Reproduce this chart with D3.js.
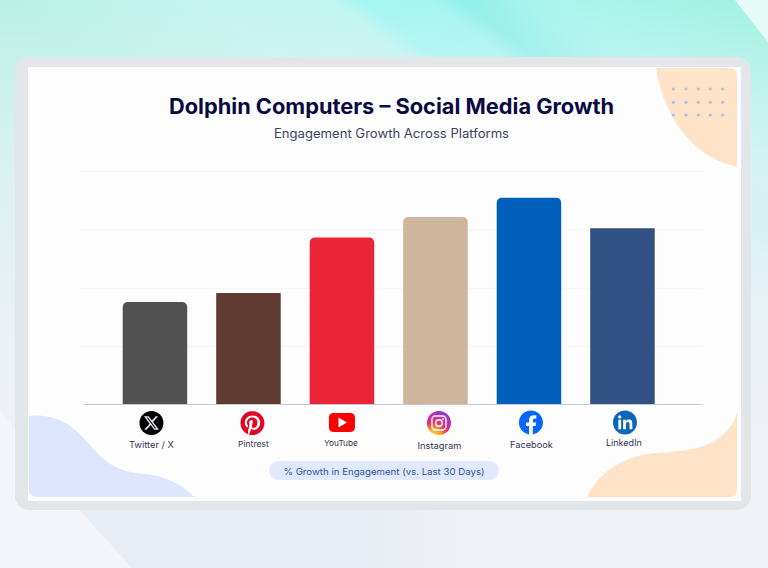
<!DOCTYPE html>
<html>
<head>
<meta charset="utf-8">
<title>Dolphin Computers - Social Media Growth</title>
<script src="https://cdn.jsdelivr.net/npm/d3@7"></script>
<style>
html,body{margin:0;padding:0;background:#eef2f8;overflow:hidden;}
svg{display:block;}
text{font-family:Inter,"Open Sans",sans-serif;}
</style>
</head>
<body>
<div id="chart"></div>
<script>
//values (no printed axis, gridlines taken as steps of 10)
var platforms = ["Twitter / X","Pintrest","YouTube","Instagram","Facebook","LinkedIn"];
var growth = [17.55,19.1,28.6,32.1,35.4,30.2];
var gridTicks = [0,10,20,30,40];
var barColors = ["#515151","#603b32","#ea2537","#cfb49c","#0060bb","#315083"];
var roundedTop = [true,false,true,true,true,false];

var titleText = "Dolphin Computers \u2013 Social Media Growth";
var subtitleText = "Engagement Growth Across Platforms";
var pillText = "% Growth in Engagement (vs. Last 30 Days)";

//icons and their captions sit a little off the band centres in the original
var iconDx = [-3.5,4,0,3.5,2,2.5];
var iconDy = [0.5,0.5,0,0.5,0,0];
var captions = [
	{dx:-3.5,base:448,size:9,len:45},
	{dx:5,base:447,size:8,len:31},
	{dx:-1,base:446,size:8,len:34},
	{dx:4,base:448.5,size:8.5,len:44},
	{dx:2.5,base:447.5,size:9,len:43},
	{dx:1.5,base:446,size:8.5,len:36}
];

var width = 768, height = 568;
var svg = d3.select("#chart").append("svg").attr("width",width).attr("height",height);
var defs = svg.append("defs");

function stops(g,list){
	list.forEach(function(s){
		var st = g.append("stop").attr("offset",s[0]).attr("stop-color",s[1]);
		if(s.length>2){st.attr("stop-opacity",s[2])}
	});
	return g;
}
//diagonal teal streaks along the top, running down to the right
stops(defs.append("linearGradient").attr("id","streaks").attr("gradientUnits","userSpaceOnUse")
	.attr("x1",0).attr("y1",0).attr("x2",285).attr("y2",-371),[
	[0,"#b8f1e6"],[0.26,"#c4f4ee"],[0.43,"#c0f5f0"],[0.47,"#a5f6f4"],[0.56,"#a5f5f3"],
	[0.6,"#8ff0ea"],[0.68,"#a5f3ee"],[0.73,"#a9f5ed"],[0.92,"#a2f2e3"],[1,"#a2f2e3"]]);
//fades the streaks out into the pale lower half
stops(defs.append("linearGradient").attr("id","fade").attr("x1",0).attr("y1",0).attr("x2",0).attr("y2",1),[
	[0,"#eef1f6",0],[0.1,"#eef1f6",0.25],[0.3,"#eef1f6",0.65],[0.6,"#eef1f6",0.95],[0.8,"#eef1f6",1],[1,"#eef1f6",1]]);
stops(defs.append("linearGradient").attr("id","floor").attr("gradientUnits","userSpaceOnUse")
	.attr("x1",75).attr("y1",0).attr("x2",470).attr("y2",0),[
	[0,"#e8ecf5"],[0.7,"#e8ecf4"],[1,"#eef1f6"]]);
stops(defs.append("radialGradient").attr("id","insta").attr("cx",0.3).attr("cy",1).attr("r",1.05),[
	[0,"#fdd33f"],[0.25,"#f9a32b"],[0.5,"#ec2f62"],[0.75,"#c82bb0"],[1,"#7c3bd8"]]);

//page background
svg.append("rect").attr("width",width).attr("height",height).attr("fill","url(#streaks)");
svg.append("rect").attr("width",width).attr("height",height).attr("fill","url(#fade)");
svg.append("path").attr("d","M735 0L768 0L768 42Z").attr("fill","#ffffff").attr("opacity",0.7);
svg.append("path").attr("d","M0 410L132 568L0 568Z").attr("fill","#f3f5fa");
svg.append("path").attr("d","M75 505L132 568L520 568L470 505Z").attr("fill","url(#floor)");

//frame and card
svg.append("rect").attr("x",15).attr("y",57).attr("width",736).attr("height",453).attr("rx",14).attr("fill","#e3e6e9");
svg.append("rect").attr("x",28).attr("y",67).attr("width",713).attr("height",434).attr("fill","#fdfdfe");

//corner blobs
svg.append("path").attr("fill","#fee3c9")
	.attr("d","M656 68L729 68Q737 68 737 76L737 167C700 160 665 125 656 68Z");
svg.append("path").attr("fill","#fee3c9")
	.attr("d","M587 497C600 470 625 456 655 453C685 451 725 450 737 413L737 489Q737 497 729 497Z");
svg.append("path").attr("fill","#dde6fd")
	.attr("d","M29 416C60 413 75 428 90 445C105 463 118 472 145 474C165 476 182 484 194 497L37 497Q29 497 29 489Z");

var dotXs = [673.3,686,698.3,710.3,722.7], dotYs = [89,102.3,115];
dotYs.forEach(function(y){
	svg.append("g").selectAll("circle").data(dotXs).enter().append("circle")
		.attr("cx",function(d){return d}).attr("cy",y).attr("r",1.6).attr("fill","#a9c3e6");
});

//titles
function fitted(sel,len){
	return sel.attr("textLength",len).attr("lengthAdjust","spacingAndGlyphs");
}
fitted(svg.append("text").attr("x",391.5).attr("y",114).attr("text-anchor","middle")
	.attr("font-size",21).attr("font-weight",700).attr("fill","#0a0a42").text(titleText),445);
fitted(svg.append("text").attr("x",391.5).attr("y",138).attr("text-anchor","middle")
	.attr("font-size",12.5).attr("fill","#3b4560").text(subtitleText),235);

//scales
var x = d3.scaleBand().domain(platforms).range([108.2,669.2]).paddingInner(0.31).paddingOuter(0.155);
var y = d3.scaleLinear().domain([0,40]).range([404.5,171]);

//gridlines
var grid = svg.append("g").attr("transform","translate(703,0)")
	.call(d3.axisLeft(y).tickValues(gridTicks).tickSize(623).tickFormat(""));
grid.select(".domain").remove();
grid.selectAll("line").attr("stroke","#f4f4f6").attr("stroke-width",1);
grid.selectAll(".tick").filter(function(d){return d===0}).remove();

//bars, some with rounded tops like the original
function barPath(d,i){
	var x0 = x(platforms[i]), x1 = x0+x.bandwidth(), y0 = y(0), y1 = y(d);
	var r = roundedTop[i] ? 5 : 0;
	var p = d3.path();
	p.moveTo(x0,y0);
	p.lineTo(x0,y1+r);
	if(r){p.arcTo(x0,y1,x0+r,y1,r);}
	p.lineTo(x1-r,y1);
	if(r){p.arcTo(x1,y1,x1,y1+r,r);}
	p.lineTo(x1,y0);
	p.closePath();
	return p.toString();
}
svg.append("g").selectAll("path").data(growth).enter().append("path")
	.attr("d",barPath)
	.attr("fill",function(d,i){return barColors[i]});

//baseline
svg.append("line").attr("x1",84).attr("x2",703).attr("y1",y(0)).attr("y2",y(0))
	.attr("stroke","#c5c9d3").attr("stroke-width",1);

//platform icons, drawn on a 24 unit box round the centre
var P_PATH = "M12.017 0C5.396 0 .029 5.367.029 11.987c0 5.079 3.158 9.417 7.618 11.162-.105-.949-.199-2.403.041-3.439.219-.937 1.406-5.957 1.406-5.957s-.359-.72-.359-1.781c0-1.663.967-2.911 2.168-2.911 1.024 0 1.518.769 1.518 1.688 0 1.029-.653 2.567-.992 3.992-.285 1.193.6 2.165 1.775 2.165 2.128 0 3.768-2.245 3.768-5.487 0-2.861-2.063-4.869-5.008-4.869-3.41 0-5.409 2.562-5.409 5.199 0 1.033.394 2.143.889 2.741.099.12.112.225.085.345-.09.375-.293 1.199-.334 1.363-.053.225-.172.271-.401.165-1.495-.69-2.433-2.878-2.433-4.646 0-3.776 2.748-7.252 7.92-7.252 4.158 0 7.392 2.967 7.392 6.923 0 4.135-2.607 7.462-6.233 7.462-1.214 0-2.354-.629-2.758-1.379l-.749 2.848c-.269 1.045-1.004 2.352-1.498 3.146 1.123.345 2.306.535 3.55.535 6.607 0 11.985-5.365 11.985-11.987C23.97 5.39 18.592.026 11.985.026L12.017 0z";
var F_PATH = "M24 12.073c0-6.627-5.373-12-12-12s-12 5.373-12 12c0 5.99 4.388 10.954 10.125 11.854v-8.385H7.078v-3.47h3.047V9.43c0-3.007 1.792-4.669 4.533-4.669 1.312 0 2.686.235 2.686.235v2.953H15.83c-1.491 0-1.956.925-1.956 1.874v2.25h3.328l-.532 3.47h-2.796v8.385C19.612 23.027 24 18.062 24 12.073z";
var X_PATH = "M18.901 1.153h3.68l-8.04 9.19L24 22.846h-7.406l-5.8-7.584-6.638 7.584H.474l8.6-9.83L0 1.154h7.594l5.243 6.932ZM17.61 20.644h2.039L6.486 3.24H4.298Z";

var iconDraw = [
	function(g){
		g.append("circle").attr("r",12).attr("fill","#000000");
		g.append("path").attr("d",X_PATH).attr("transform","translate(-7.5,-7.5) scale(0.625)").attr("fill","#e8e4ee");
	},
	function(g){
		g.append("circle").attr("r",11.5).attr("fill","#ffffff");
		g.append("path").attr("d",P_PATH).attr("transform","translate(-12,-12)").attr("fill","#e60023");
	},
	function(g){
		g.append("rect").attr("x",-13).attr("y",-9.5).attr("width",26).attr("height",19).attr("rx",4.5).attr("fill","#ff0000");
		g.append("path").attr("d","M-3.5 -5L5 0L-3.5 5Z").attr("fill","#ffffff");
	},
	function(g){
		g.append("circle").attr("r",12).attr("fill","url(#insta)");
		g.append("rect").attr("x",-7).attr("y",-7).attr("width",14).attr("height",14).attr("rx",3.5)
			.attr("fill","none").attr("stroke","#ffffff").attr("stroke-width",1.4);
		g.append("circle").attr("r",3.3).attr("fill","none").attr("stroke","#ffffff").attr("stroke-width",1.4);
		g.append("circle").attr("cx",4).attr("cy",-4).attr("r",0.9).attr("fill","#ffffff");
	},
	function(g){
		g.append("circle").attr("r",11.5).attr("fill","#ffffff");
		g.append("path").attr("d",F_PATH).attr("transform","translate(-12,-12)").attr("fill","#0866ff");
	},
	function(g){
		g.append("circle").attr("r",12).attr("fill","#0a66b8");
		g.append("circle").attr("cx",-5.2).attr("cy",-5.6).attr("r",1.6).attr("fill","#ffffff");
		g.append("rect").attr("x",-6.6).attr("y",-2.8).attr("width",2.8).attr("height",9.6).attr("fill","#ffffff");
		g.append("path").attr("fill","#ffffff")
			.attr("d","M-1.8 -2.8H0.9V-1.4C1.5 -2.4 2.6 -3 4 -3C6.6 -3 7.4 -1.4 7.4 1.1V6.8H4.6V1.8C4.6 0.5 4.2 -0.6 2.9 -0.6C1.5 -0.6 1 0.5 1 1.8V6.8H-1.8Z");
	}
];

var icons = svg.append("g").selectAll("g").data(platforms).enter().append("g")
	.attr("transform",function(d,i){
		return "translate("+(x(d)+x.bandwidth()/2+iconDx[i])+","+(422.5+iconDy[i])+")";
	});
icons.each(function(d,i){iconDraw[i](d3.select(this))});

svg.append("g").selectAll("text").data(platforms).enter().append("text")
	.attr("x",function(d,i){return x(d)+x.bandwidth()/2+captions[i].dx})
	.attr("y",function(d,i){return captions[i].base})
	.attr("text-anchor","middle")
	.attr("font-size",function(d,i){return captions[i].size})
	.attr("font-weight",400)
	.attr("fill","#33364f")
	.attr("textLength",function(d,i){return captions[i].len})
	.attr("lengthAdjust","spacingAndGlyphs")
	.text(function(d){return d});

//pill under the chart
svg.append("rect").attr("x",269).attr("y",461).attr("width",230).attr("height",19).attr("rx",9.5).attr("fill","#e2e8fd");
fitted(svg.append("text").attr("x",384).attr("y",475).attr("text-anchor","middle")
	.attr("font-size",9).attr("font-weight",400).attr("fill","#1f56aa").text(pillText),201);
</script>
</body>
</html>
